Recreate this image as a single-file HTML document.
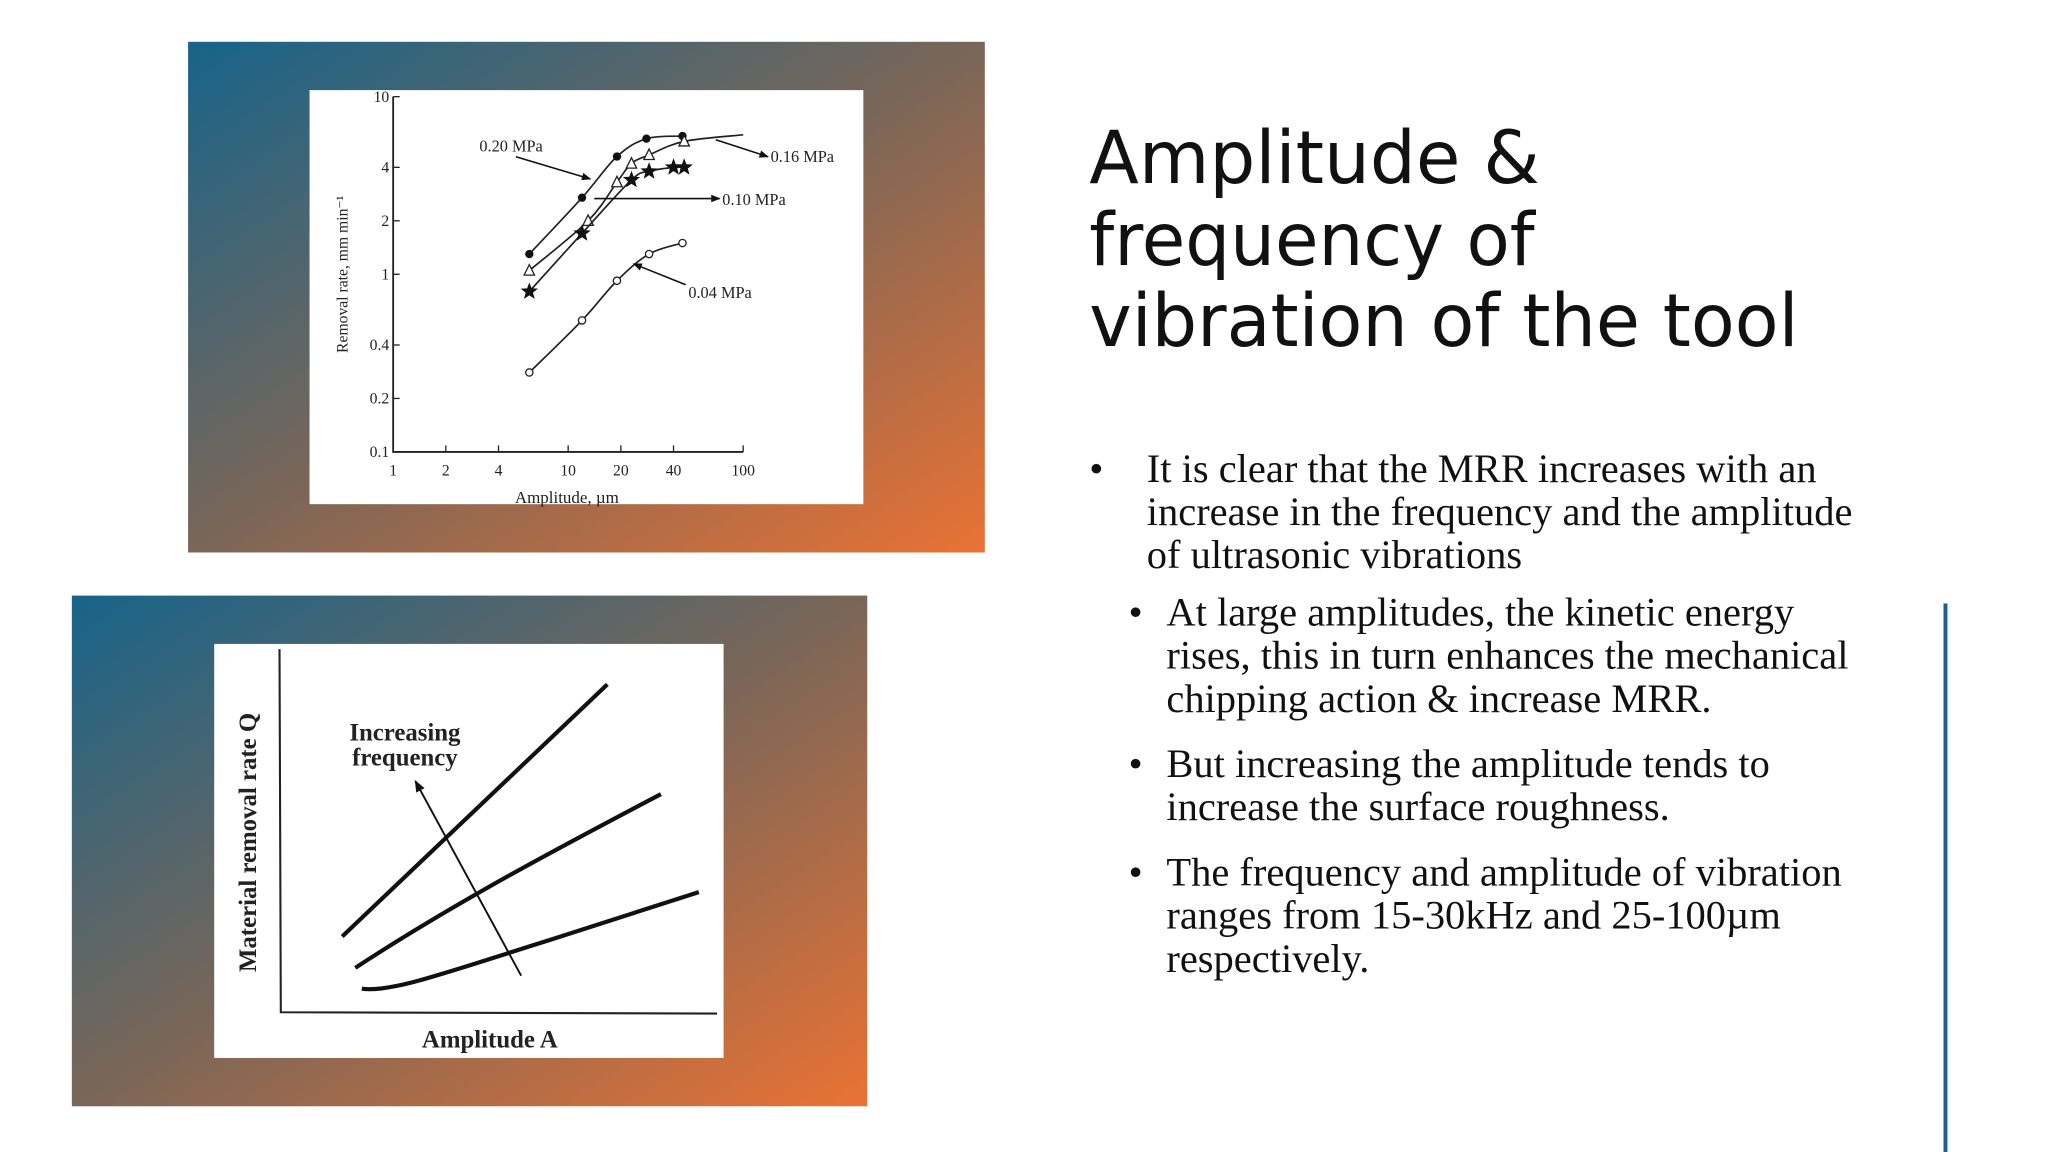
<!DOCTYPE html>
<html><head><meta charset="utf-8">
<style>
html,body{margin:0;padding:0;background:#fff;}
svg{display:block;}
</style></head>
<body>
<svg id="slide" width="2048" height="1152" viewBox="0 0 1568 882" preserveAspectRatio="none" xmlns="http://www.w3.org/2000/svg">
<defs>
<linearGradient id="g1" x1="0" y1="0" x2="1" y2="1">
<stop offset="0" stop-color="#17648a"/><stop offset="0.5" stop-color="#7a6658"/><stop offset="1" stop-color="#ea7234"/>
</linearGradient>
<marker id="ah" viewBox="0 0 10 10" refX="9" refY="5" markerWidth="6" markerHeight="6" orient="auto"><path d="M0,1 L10,5 L0,9 z" fill="#111"/></marker>
</defs>
<rect x="144" y="32" width="610" height="391" fill="url(#g1)"/>
<rect x="237" y="69" width="424" height="317" fill="#fff"/>
<rect x="55" y="456" width="609" height="391" fill="url(#g1)"/>
<rect x="164" y="493" width="390" height="317" fill="#fff"/>
<g id="top-chart" font-family="Liberation Serif, serif" fill="#222"></g>
<g id="bottom-chart" font-family="Liberation Serif, serif"></g>
<g font-family="DejaVu Sans, sans-serif" font-size="56" fill="#111">
<text x="834" y="140" textLength="345" lengthAdjust="spacingAndGlyphs">Amplitude &amp;</text>
<text x="834" y="203" textLength="341" lengthAdjust="spacingAndGlyphs">frequency of</text>
<text x="834" y="265" textLength="543" lengthAdjust="spacingAndGlyphs">vibration of the tool</text>
</g>
<g font-family="Liberation Serif, serif" font-size="31" fill="#111">
<text x="834" y="369">•</text>
<text x="878" y="369">It is clear that the MRR increases with an</text>
<text x="878" y="402">increase in the frequency and the amplitude</text>
<text x="878" y="435">of ultrasonic vibrations</text>
<text x="864" y="479">•</text>
<text x="893" y="479">At large amplitudes, the kinetic energy</text>
<text x="893" y="512">rises, this in turn enhances the mechanical</text>
<text x="893" y="545">chipping action &amp; increase MRR.</text>
<text x="864" y="595">•</text>
<text x="893" y="595">But increasing the amplitude tends to</text>
<text x="893" y="628">increase the surface roughness.</text>
<text x="864" y="678">•</text>
<text x="893" y="678">The frequency and amplitude of vibration</text>
<text x="893" y="711">ranges from 15-30kHz and 25-100µm</text>
<text x="893" y="744">respectively.</text>
</g>
<rect x="1488" y="462" width="3" height="420" fill="#1f5f8b"/>
</svg>
<script>
const NS='http://www.w3.org/2000/svg';
const xTicks=[1,2,4,10,20,40,100];
const yTicks=[0.1,0.2,0.4,1,2,4,10];
const series=['0.20 MPa','0.16 MPa','0.10 MPa','0.04 MPa'];
const ampP20=[6,12,19,28,45];   const rateP20=[1.3,2.7,4.6,5.8,6.0];
const ampP16=[6,13,19,23,29,46,100]; const rateP16=[1.05,2.0,3.3,4.2,4.7,5.6,6.1];
const ampP10=[6,12,23,29,40,46]; const rateP10=[0.8,1.7,3.4,3.8,4.0,4.0];
const ampP04=[6,12,19,29,45];   const rateP04=[0.28,0.55,0.92,1.3,1.5];
const freqLevels=['low','mid','high'];

function mk(tag,attrs,parent,txt){const e=document.createElementNS(NS,tag);for(const k in attrs)e.setAttribute(k,attrs[k]);if(txt!==undefined)e.textContent=txt;parent.appendChild(e);return e;}
const X0=301,XD=134,Y0=346,YD=136;
const sx=v=>X0+Math.log10(v)*XD;
const sy=v=>Y0-(Math.log10(v)+1)*YD;
const tc=document.getElementById('top-chart');
let ax=mk('path',{d:`M${X0},74 L${X0},${Y0} L569,${Y0}`,fill:'none',stroke:'#222','stroke-width':1.4},tc);


xTicks.forEach(t=>{const x=sx(t);
 const l=mk('line',{x1:x,y1:Y0,x2:x,y2:Y0-5,stroke:'#222'},tc);
 
 
 const s=mk('text',{x:x,y:Y0+18,'font-size':12,'text-anchor':'middle'},tc,String(t));
 
 });
yTicks.forEach(t=>{const y=sy(t);
 const l=mk('line',{x1:X0,y1:y,x2:X0+5,y2:y,stroke:'#222'},tc);
 
 
 const s=mk('text',{x:X0-3,y:y+4,'font-size':12,'text-anchor':'end'},tc,String(t));
 
 });
let yl=mk('text',{x:0,y:0,'font-size':12,'text-anchor':'middle',transform:'translate(266,210) rotate(-90)'},tc,'Removal rate, mm min⁻¹');


let xl=mk('text',{x:434,y:385,'font-size':13,'text-anchor':'middle'},tc,'Amplitude, µm');


function smooth(pts){let d=`M${pts[0][0]},${pts[0][1]}`;for(let i=0;i<pts.length-1;i++){const p0=pts[i-1]||pts[i],p1=pts[i],p2=pts[i+1],p3=pts[i+2]||p2;
 d+=` C${p1[0]+(p2[0]-p0[0])/6},${p1[1]+(p2[1]-p0[1])/6} ${p2[0]-(p3[0]-p1[0])/6},${p2[1]-(p3[1]-p1[1])/6} ${p2[0]},${p2[1]}`;}return d;}
function star(cx,cy,r){let d='';for(let i=0;i<10;i++){const a=-Math.PI/2+i*Math.PI/5,rr=i%2?r*0.42:r;d+=(i?'L':'M')+(cx+rr*Math.cos(a))+','+(cy+rr*Math.sin(a));}return d+'Z';}
const sets=[[ampP20,rateP20,'dot'],[ampP16,rateP16,'tri'],[ampP10,rateP10,'star'],[ampP04,rateP04,'circ']];
sets.forEach((s,si)=>{const pts=s[0].map((a,i)=>[sx(a),sy(s[1][i])]);
 const p=mk('path',{d:smooth(pts),fill:'none',stroke:'#222','stroke-width':1.3},tc);
 
 
 pts.forEach((q,i)=>{if(s[2]==='tri'&&i===pts.length-1)return;let m;
  if(s[2]==='dot')m=mk('circle',{cx:q[0],cy:q[1],r:3.2,fill:'#111'},tc);
  else if(s[2]==='circ')m=mk('circle',{cx:q[0],cy:q[1],r:2.8,fill:'#fff',stroke:'#222'},tc);
  else if(s[2]==='tri')m=mk('path',{d:`M${q[0]},${q[1]-4.5} L${q[0]+4},${q[1]+3.5} L${q[0]-4},${q[1]+3.5}Z`,fill:'#fff',stroke:'#222'},tc);
  else m=mk('path',{d:star(q[0],q[1],7),fill:'#111'},tc);
  
  });});
const ann=[['0.20 MPa',367,116,'start',[395,120,452,137]],['0.16 MPa',590,124,'start',[548,107,588,120]],['0.10 MPa',553,157,'start',[455,152,551,152]],['0.04 MPa',527,228,'start',[525,218,485,202]]];
ann.forEach(a=>{const t=mk('text',{x:a[1],y:a[2],'font-size':12.5},tc,a[0]);
 
 
 const l=mk('line',{x1:a[4][0],y1:a[4][1],x2:a[4][2],y2:a[4][3],stroke:'#111','stroke-width':1.2,'marker-end':'url(#ah)'},tc);
 
 });

// bottom schematic chart
const bc=document.getElementById('bottom-chart');
let bax=mk('path',{d:'M214,497 L215,775 L549,776',fill:'none',stroke:'#222','stroke-width':1.6},bc);


const lineDefs=['M277,757 C300,760 340,745 420,720 L535,683','M272,741 C350,690 430,648 506,608','M262,717 L465,524'];
lineDefs.forEach((d,i)=>{const p=mk('path',{d:d,fill:'none',stroke:'#111','stroke-width':3.2},bc);
 
 });
let arr=mk('line',{x1:399,y1:747,x2:318,y2:598,stroke:'#111','stroke-width':1.5,'marker-end':'url(#ah)'},bc);


let t1=mk('text',{x:310,y:567,'font-size':19,'text-anchor':'middle',fill:'#222','font-weight':'bold'},bc,'Increasing');


let t2=mk('text',{x:310,y:586,'font-size':19,'text-anchor':'middle',fill:'#222','font-weight':'bold'},bc,'frequency');


let byl=mk('text',{x:0,y:0,'font-size':19,'text-anchor':'middle',fill:'#222','font-weight':'bold',transform:'translate(196,645) rotate(-90)'},bc,'Material removal rate Q');


let bxl=mk('text',{x:375,y:802,'font-size':19,'text-anchor':'middle',fill:'#222','font-weight':'bold'},bc,'Amplitude A');


</script>
</body></html>
